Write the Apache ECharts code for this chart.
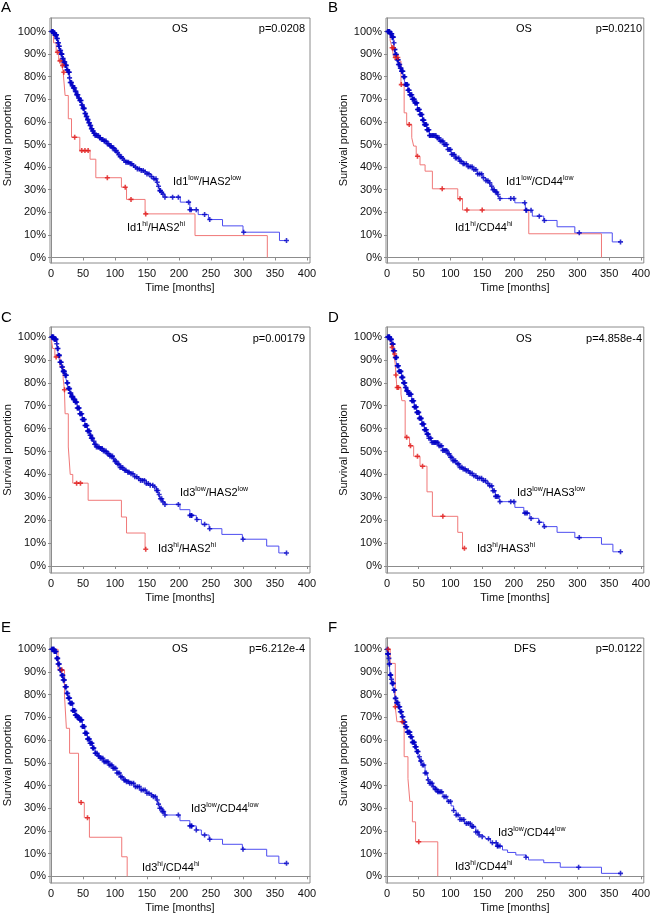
<!DOCTYPE html>
<html><head><meta charset="utf-8">
<script src="https://cdn.jsdelivr.net/npm/echarts@6/dist/echarts.min.js"></script>
<style>html,body{margin:0;padding:0;background:#fff}#c{width:653px;height:920px}</style>
</head><body><div id="c"></div>
<script>
// ---------- tick labels ----------
const xTicks = [0, 50, 100, 150, 200, 250, 300, 350, 400];
const yTicks = [0, 10, 20, 30, 40, 50, 60, 70, 80, 90, 100];

// ---------- Panel A: Id1/HAS2 (OS) ----------
const A_low_steps = [[0,100],[4,99.3],[6,98.5],[9,96.9],[11,95],[12,93.5],[14,91.6],[16,90],[18,88],[20,86.5],[22,85],[25,83],[27,82],[29,79.5],[30,77.4],[33,76],[35,75],[38,73.5],[40,72],[43,70.6],[45,69.5],[48,67.5],[50,66],[53,63.7],[55,62.4],[57,61],[59,59.6],[61,58.4],[63,57],[65,56],[67,55],[69,54],[75,53],[79,52.2],[82,51.5],[87,50.3],[91,49.4],[95,48.5],[100,47.3],[103,46.4],[105,45.5],[108,44.6],[111,43.8],[114,43],[117,42.2],[123,41.5],[127,40.7],[130,40],[135,39.2],[139,38.5],[145,37.8],[150,37],[156,35.8],[160,34.8],[165,33.3],[168,31.5],[170,29.6],[172,28.8],[174,28],[178,26.7],[202,24.5],[217,21.1],[230,19],[246,16.8],[268,14],[300,11.2],[357,7.5],[368,7.5]];
const A_low_cens = [1,2,2.5,3,4,5,5.5,6,7,8,8.5,9,10,11,11.5,12,13,14,15,16,16.5,17,18,19,20,21,21.5,22,23,24,25,26,27,28,28.5,29,30,31,32,33,34,35,36,37,38,39,40,41,42,43,44,45,46,47,48,49,50,51,52,53,54,55,56,57,58,59,60,61,62,63,64,65,66,67,68,69,71,72,74,76,77,79,81,83,84,86,88,90,92,94,96,98,100,102,104,106,108,110,112,114,117,119,121,124,126,129,132,135,138,141,144,147,150,153,157,161,164,166,168,170,171,173,175,178,190,199,215,217,219,227,240,248,301,368];
const A_hi_steps = [[0,100],[4,95],[8,90.8],[12,87],[17,85],[19,82],[22,71.7],[27,61.4],[32,53.2],[45,47.3],[61,43.5],[70,35.3],[110,31.1],[118,25.7],[147,19.3],[225,9.7],[338,0]];
const A_hi_cens = [10,14,18,20,37,48,53,58,88,116,125,148];

// ---------- Panel B: Id1/CD44 (OS) ----------
const B_low_steps = [[0,100],[5,99],[8,97.5],[10.5,95],[12,92],[13,89.8],[16,87.5],[18,85.4],[21,83.8],[23,82.4],[26,80],[29,76.5],[33,74],[36,72],[40,70],[44,68.4],[48,65.5],[52,63.3],[56,60.8],[59,58.8],[63,56.5],[67,54],[78,53],[83,51.5],[88.6,50],[95,47.8],[101,45.6],[108,44],[114,42.6],[120,41.5],[127,40.2],[135,38.9],[142,37],[150,35.3],[156,34],[161,33],[164,31.5],[166,30],[170,29],[174,27.9],[177,26.1],[201.5,24.2],[218,20.9],[229,18.3],[247,16.4],[268,13.6],[296,10.9],[355,6.9],[368,6.9]];
const B_low_cens = [1,2,3,3.5,4,5,6,7,7.5,8,9,10,11,12,12.5,13,14,15,16,17,17.5,18,19,20,21,22,23,23.5,24,25,26,27,28,29,30,31,32,33,34,35,36,37,38,39,40,41,42,43,44,45,46,47,48,49,50,51,52,53,54,55,56,57,58,59,60,61,62,63,64,65,66,67,68,70,72,73,75,77,79,80,82,84,86,88,90,92,94,96,98,100,102,104,106,108,110,113,115,117,120,122,125,128,131,134,137,140,143,146,149,152,156,159,162,165,167,169,171,173,175,178,195,200,217,219,220,227,240,248,303,368];
const B_hi_steps = [[0,100],[5,96],[8,92.8],[10.5,88.5],[18,86.9],[22,76.5],[27,64],[31,58.8],[39,53],[42,49.3],[46,44.8],[52,41],[60,38.2],[71.5,30.4],[111.5,26],[119,21],[223.4,10.5],[338,0]];
const B_hi_cens = [8,10,13,17,22.5,35,48,87,115,126,150];

// ---------- Panel C: Id3/HAS2 (OS) ----------
const C_low_steps = [[0,100],[5,99],[9,97.1],[10,95],[11.4,92],[14,89],[16.7,86.9],[19,85],[22,83.3],[25,80],[27,77.5],[30,75.5],[32,74],[35,72.8],[37.5,71.6],[41,69],[45,66.5],[49,64],[53,61.4],[57,59],[61,57.1],[63,55.8],[66,54.5],[68,53.2],[71,52],[77,51.3],[82,50.2],[87,49.1],[92,48],[97,46.9],[100,45.7],[103,44.5],[108,43],[113,41.8],[118,41],[123,40.3],[130,39],[135,38.2],[139,37.4],[149,36],[155,35.3],[160,34.5],[165,33],[168,31.2],[170,29.4],[174,28],[178,26.9],[201.5,24.6],[217,22.1],[227,20.3],[235,18.2],[247,16.3],[267,13.8],[299,11.7],[337,8.7],[356,5.7],[368,5.7]];
const C_low_cens = [1,2,2.5,3,4,5,6,6.5,7,8,9,10,11,12,12.5,13,14,15,16,17,18,19,19.5,20,21,22,23,24,25,26,27,28,29,30,31,32,33,34,35,36,37,38,39,40,41,42,43,44,45,46,47,48,49,50,51,52,53,54,55,56,57,58,59,60,61,62,63,64,65,67,68,70,71,73,75,77,78,80,82,84,86,88,90,92,94,96,98,100,102,104,106,108,110,112,115,117,120,122,125,128,131,134,137,140,143,146,149,152,155,159,162,165,167,169,171,173,175,178,199,217,219,220,228,240,248,300,368];
const C_hi_steps = [[0,100],[2.6,95],[6,91.3],[14,86.9],[19,81.8],[21,77],[22,66.5],[27,52],[30,40],[34,36.2],[58,28.7],[110,21.4],[118,14.4],[147,7.3],[148,7.3]];
const C_hi_cens = [8,21,40,46,148];

// ---------- Panel D: Id3/HAS3 (OS) ----------
const D_low_steps = [[0,100],[5,99],[8,96.9],[10,94],[13,91.1],[15.6,87.5],[19,85],[23,82.4],[26,80],[28.6,78],[31,76.5],[34,75],[39,72.2],[43,69.5],[47,67.1],[51,64.5],[55,62],[59,59.5],[62.5,57.6],[66,55.8],[70,54],[81,52.5],[88,50.5],[96,49],[100,47.5],[104,46],[109,44.6],[114,43.1],[119,42.4],[124.5,41.6],[130,40.5],[135,39.4],[142,38.3],[150,37.3],[156,36.1],[161,35],[166,32.9],[171,30.4],[177,28.1],[201.5,25.6],[215.6,23.1],[225,20.8],[239,19.1],[247,17.2],[268,14.7],[296,12.4],[338,9.5],[356,6.2],[368,6.2]];
const D_low_cens = [1,2,3,3.5,4,5,6,7,8,9,9.5,10,11,12,13,14,14.5,15,16,17,18,19,20,21,22,23,24,25,26,27,28,29,30,31,32,33,34,35,36,37,38,39,40,41,42,43,44,45,46,47,48,49,50,51,52,53,54,55,56,57,58,59,60,61,62,63,64,65,66,68,69,71,73,75,76,78,80,82,84,86,88,90,92,94,96,98,100,102,104,106,108,111,113,115,118,120,123,125,128,131,134,137,140,143,146,149,152,155,159,162,165,167,169,171,173,175,178,195,200,217,219,221,227,240,248,303,368];
const D_hi_steps = [[0,100],[5,97.5],[8,95.5],[10.5,92.6],[13,88.2],[14,83.4],[15.6,78],[22,75.1],[23.4,72.2],[28.6,56.2],[35.5,52.5],[42,47.9],[52,43.6],[63,32.4],[71.5,21.7],[111.5,14.7],[119,7.7],[122,7.7]];
const D_hi_cens = [8,12,14,16,18,31,37,48,56,88,122];

// ---------- Panel E: Id3/CD44 (OS) ----------
const E_low_steps = [[0,100],[5,99],[9,96],[11,93.5],[14,90.9],[17,88.5],[19,86.5],[22,83.5],[24.5,80.6],[27,78.5],[30,76.2],[34,73],[37.5,71],[41,70],[45,68.9],[49,66],[53,63],[57,60.5],[61,58.6],[65,56.5],[69,54.2],[73,53],[76.6,52],[82,50.5],[90,49],[97,47.6],[103,45.5],[108,43.8],[113,42.4],[118,41.7],[123,41],[130,39.5],[139,38],[149,36.6],[155,35.8],[160,35.1],[165,33.6],[168,31.8],[170,30],[174,28.5],[178,27],[201.5,24.5],[217,22.2],[227,20.4],[235,18.2],[247,16.3],[268,14.1],[299,11.9],[337,8.9],[356,5.7],[368,5.7]];
const E_low_cens = [1,2,3,4,4.5,5,6,7,8,9,10,10.5,11,12,13,14,15,16,17,18,18.5,19,20,21,22,23,24,25,26,27,28,29,30,31,32,33,34,35,36,37,38,39,40,41,42,43,44,45,46,47,48,49,50,51,52,53,54,55,56,57,58,59,60,61,62,63,64,65,66,67,69,70,72,74,75,77,79,81,83,85,87,89,91,93,95,97,99,101,103,105,107,109,111,114,116,118,121,123,126,129,132,135,138,141,144,147,150,153,157,160,163,166,168,170,172,174,176,178,199,217,219,220,227,240,248,300,368];
const E_hi_steps = [[0,100],[11,90.9],[21,79.9],[24,65.2],[29,54.2],[43,32.5],[52,25.8],[60,17.2],[110.5,8.6],[119,0]];
const E_hi_cens = [17,47,57];

// ---------- Panel F: Id3/CD44 (DFS) ----------
const F_low_steps = [[0,100],[1,98],[2.6,96],[3.5,93.5],[5,88.7],[6.5,86.8],[8,85],[10.5,82],[13,78.4],[15,76.5],[18,74.7],[21,72.5],[23.4,70.3],[26,68],[28.6,65.9],[32,63.5],[36.5,61.5],[40,59],[44,57.1],[47,55],[49.5,52.7],[52,50.8],[55,49],[60,45.5],[64,42.5],[67,41],[72,39.5],[76,38.3],[80,37.2],[88,35.1],[95,33],[101,31],[105,29],[109,27],[115,25],[122,23.3],[132,21.9],[140,19.5],[145,18.2],[150,17.4],[155,16.5],[163,14.8],[174,13.3],[182,11.6],[190,10.5],[203,9.4],[219,8.4],[223,7.2],[247,6],[273,4],[338,1.3],[368,1.3]];
const F_low_cens = [0.5,1,1.5,2,3,3.5,4,5,5.5,6,7,8,9,10,11,12,13,14,15,16,17,18,19,20,21,22,23,24,25,26,27,28,29,30,31,32,33,34,35,36,37,38,39,40,41,42,43,44,45,46,47,48,49,51,53,54,56,58,60,62,65,67,69,71,73,76,78,80,82,84,86,90,93,97,100,105,109,112,115,118,121,125,128,131,134,136,140,143,145,150,160,166,172,174,175,178,219,302,368];
const F_hi_steps = [[0,100],[5,93.8],[13,74.7],[15.6,68.1],[27,52.7],[33,43],[36,33],[40,24],[45,15.2],[80,0]];
const F_hi_cens = [2,13,24,50];

// ---------- text ----------
const panelLetters = ['A','B','C','D','E','F'];
const endpoints = ['OS','OS','OS','OS','OS','DFS'];
const pValues = ['p=0.0208','p=0.0210','p=0.00179','p=4.858e-4','p=6.212e-4','p=0.0122'];
const lowLabels = [['Id1','low','/HAS2','low'],['Id1','low','/CD44','low'],['Id3','low','/HAS2','low'],['Id3','low','/HAS3','low'],['Id3','low','/CD44','low'],['Id3','low','/CD44','low']];
const hiLabels  = [['Id1','hi','/HAS2','hi'],['Id1','hi','/CD44','hi'],['Id3','hi','/HAS2','hi'],['Id3','hi','/HAS3','hi'],['Id3','hi','/CD44','hi'],['Id3','hi','/CD44','hi']];

// ---------- layout ----------
const FONT = 'Liberation Sans, Arial, Helvetica, sans-serif';
const BLUE_LINE = '#4d4df0', BLUE_MARK = '#0000c4', RED_LINE = '#f07878', RED_MARK = '#e01818';
const grids = [
  {left:50, top:18, width:260, height:245},
  {left:386, top:18, width:260, height:245},
  {left:50, top:327, width:260, height:246},
  {left:386, top:327, width:260, height:246},
  {left:50, top:638, width:260, height:245},
  {left:386, top:638, width:260, height:245}
];
const yRanges = [[-2.43,105.97],[-2.43,105.97],[-3.06,104.4],[-3.06,104.4],[-2.95,104.98],[-2.95,104.98]];
const panels = [
  {low:A_low_steps, lowC:A_low_cens, hi:A_hi_steps, hiC:A_hi_cens, letter:[1,0], ep:[180,29], p:[305,29], lowL:[173,182], hiL:[127,228]},
  {low:B_low_steps, lowC:B_low_cens, hi:B_hi_steps, hiC:B_hi_cens, letter:[328,0], ep:[524,29], p:[642,29], lowL:[506,182], hiL:[455,228]},
  {low:C_low_steps, lowC:C_low_cens, hi:C_hi_steps, hiC:C_hi_cens, letter:[1,310], ep:[180,339], p:[305,339], lowL:[180,493], hiL:[158,549]},
  {low:D_low_steps, lowC:D_low_cens, hi:D_hi_steps, hiC:D_hi_cens, letter:[328,310], ep:[524,339], p:[642,339], lowL:[517,493], hiL:[477,549]},
  {low:E_low_steps, lowC:E_low_cens, hi:E_hi_steps, hiC:E_hi_cens, letter:[1,620], ep:[180,649], p:[305,649], lowL:[191,809], hiL:[142,868]},
  {low:F_low_steps, lowC:F_low_cens, hi:F_hi_steps, hiC:F_hi_cens, letter:[328,620], ep:[525,649], p:[642,649], lowL:[498,833], hiL:[455,867]}
];

function survAt(steps, t) {
  let v = steps[0][1];
  for (const s of steps) { if (s[0] <= t) v = s[1]; }
  return v;
}
const PLUS = 'path://M1.7,0H3.3V1.7H5V3.3H3.3V5H1.7V3.3H0V1.7H1.7Z';

const xAxes = [], yAxes = [], series = [], graphics = [];
grids.forEach((g, i) => {
  xAxes.push({
    gridIndex:i, type:'value', min:-1.6, max:404.7,
    name:'Time [months]', nameLocation:'middle', nameGap:19,
    nameTextStyle:{fontFamily:FONT, fontSize:11, color:'#111'},
    axisLine:{show:true, lineStyle:{color:'#8c8c8c', width:1}},
    axisTick:{show:true, length:3, customValues:xTicks, lineStyle:{color:'#8c8c8c'}},
    axisLabel:{customValues:xTicks, margin:5, fontFamily:FONT, fontSize:11, color:'#111'},
    splitLine:{show:false}
  });
  yAxes.push({
    gridIndex:i, type:'value', min:yRanges[i][0], max:yRanges[i][1],
    name:'Survival proportion', nameLocation:'middle', nameGap:33,
    nameTextStyle:{fontFamily:FONT, fontSize:11, color:'#111'},
    axisLine:{show:true, lineStyle:{color:'#8c8c8c', width:1}},
    axisTick:{show:true, length:3, customValues:yTicks, lineStyle:{color:'#8c8c8c'}},
    axisLabel:{customValues:yTicks, margin:4, fontFamily:FONT, fontSize:11, color:'#111', formatter: v => v + '%'},
    splitLine:{show:false}
  });
  const P = panels[i];
  series.push({type:'line', xAxisIndex:i, yAxisIndex:i, data:P.low, step:'end', showSymbol:false, lineStyle:{color:BLUE_LINE, width:1}, silent:true, z:2});
  series.push({type:'line', xAxisIndex:i, yAxisIndex:i, data:P.hi, step:'end', showSymbol:false, lineStyle:{color:RED_LINE, width:1}, silent:true, z:3});
  series.push({type:'scatter', xAxisIndex:i, yAxisIndex:i, data:P.lowC.map(t => [t, survAt(P.low, t)]), symbol:PLUS, symbolSize:5, itemStyle:{color:BLUE_MARK}, silent:true, z:4});
  series.push({type:'scatter', xAxisIndex:i, yAxisIndex:i, data:P.hiC.map(t => [t, survAt(P.hi, t)]), symbol:PLUS, symbolSize:5, itemStyle:{color:RED_MARK}, silent:true, z:5});

  graphics.push({type:'text', x:P.letter[0], y:P.letter[1], style:{text:panelLetters[i], font:'15px ' + FONT, fill:'#000', align:'left', verticalAlign:'top'}});
  graphics.push({type:'text', x:P.ep[0], y:P.ep[1], style:{text:endpoints[i], font:'11px ' + FONT, fill:'#000', align:'center', verticalAlign:'middle'}});
  graphics.push({type:'text', x:P.p[0], y:P.p[1], style:{text:pValues[i], font:'11px ' + FONT, fill:'#000', align:'right', verticalAlign:'middle'}});
  const rich = {n:{fontSize:11, fontFamily:FONT, fill:'#000', lineHeight:14}, s:{fontSize:7, fontFamily:FONT, fill:'#000', lineHeight:8, verticalAlign:'top'}};
  [[lowLabels[i], P.lowL], [hiLabels[i], P.hiL]].forEach(([L, pos]) => {
    graphics.push({type:'text', x:pos[0], y:pos[1], style:{text:'{n|'+L[0]+'}{s|'+L[1]+'}{n|'+L[2]+'}{s|'+L[3]+'}', rich:rich, align:'left', verticalAlign:'middle'}});
  });
});

const chart = echarts.init(document.getElementById('c'), null, {renderer:'canvas'});
chart.setOption({
  animation:false,
  backgroundColor:'#fff',
  grid: grids.map(g => Object.assign({show:true, borderColor:'#8c8c8c', borderWidth:1, containLabel:false}, g)),
  xAxis:xAxes, yAxis:yAxes, series:series, graphic:graphics
});
</script>
</body></html>
